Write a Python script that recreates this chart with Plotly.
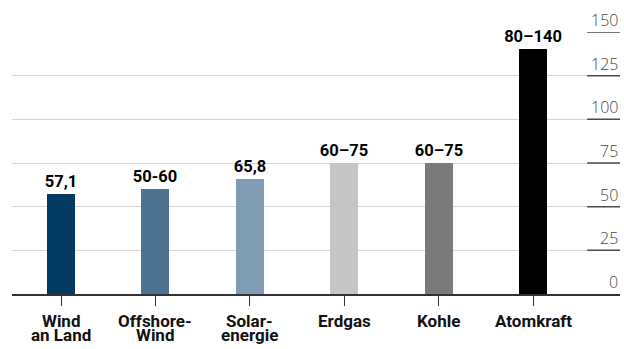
import plotly.graph_objects as go

# Stromgestehungskosten nach Energieträger
categories = ["Wind<br>an Land", "Offshore-<br>Wind", "Solar-<br>energie", "Erdgas", "Kohle", "Atomkraft"]
bar_values = [57.1, 60, 65.8, 75, 75, 140]
value_labels = ["57,1", "50-60", "65,8", "60–75", "60–75", "80–140"]
bar_colors = ["#023a62", "#4c7291", "#7f9cb4", "#c6c6c6", "#7a7a7a", "#000000"]
tick_values = [0, 25, 50, 75, 100, 125, 150]

positions = list(range(len(categories)))

fig = go.Figure()
fig.add_trace(go.Bar(
    x=positions,
    y=bar_values,
    width=0.297,
    marker=dict(color=bar_colors, line=dict(width=0)),
    text=value_labels,
    textposition="outside",
    textfont=dict(family="Roboto", size=16.5, color="#000000", weight="bold"),
    cliponaxis=False,
    hoverinfo="skip",
))

# short dark strokes under the right-hand value labels
shapes = []
for v in tick_values[1:]:
    shapes.append(dict(type="line", xref="paper", yref="y",
                       x0=0.946, x1=1.0, y0=v, y1=v,
                       line=dict(color="#4a4a4a", width=1.5), layer="above"))

annotations = []
# right-aligned labels sitting on top of their gridline
for v in tick_values:
    annotations.append(dict(xref="paper", yref="y", x=1.0, y=v,
                            xanchor="right", yanchor="bottom",
                            text=str(v), showarrow=False, yshift=-1,
                            font=dict(family="Open Sans", size=16, color="#444444", weight=300)))

# category names below the axis, set with tight line spacing
for pos, name in zip(positions, categories):
    for k, line in enumerate(name.split("<br>")):
        annotations.append(dict(xref="x", yref="paper", x=pos, y=0,
                                xanchor="center", yanchor="middle",
                                text=line, showarrow=False, borderpad=0,
                                yshift=-26.5 - 14.2 * k,
                                font=dict(family="Roboto", size=17, color="#111111", weight="bold")))

fig.update_layout(
    width=624, height=349,
    margin=dict(l=12, r=4, t=32, b=55),
    paper_bgcolor="#ffffff",
    plot_bgcolor="#ffffff",
    showlegend=False,
    bargap=0,
    uniformtext=dict(minsize=16.5, mode="show"),
    shapes=shapes,
    annotations=annotations,
    xaxis=dict(
        range=[-0.519, 5.921],
        tickvals=positions,
        showticklabels=False,
        ticks="outside", ticklen=10, tickwidth=1, tickcolor="#333333",
        showline=True, linecolor="#333333", linewidth=1.5,
        showgrid=False, zeroline=False,
        fixedrange=True,
    ),
    yaxis=dict(
        range=[0, 150],
        tickvals=tick_values,
        showticklabels=False,
        showgrid=True, gridcolor="#d4d4d4", gridwidth=1,
        zeroline=False,
        fixedrange=True,
    ),
)

fig.write_html("out.html")
